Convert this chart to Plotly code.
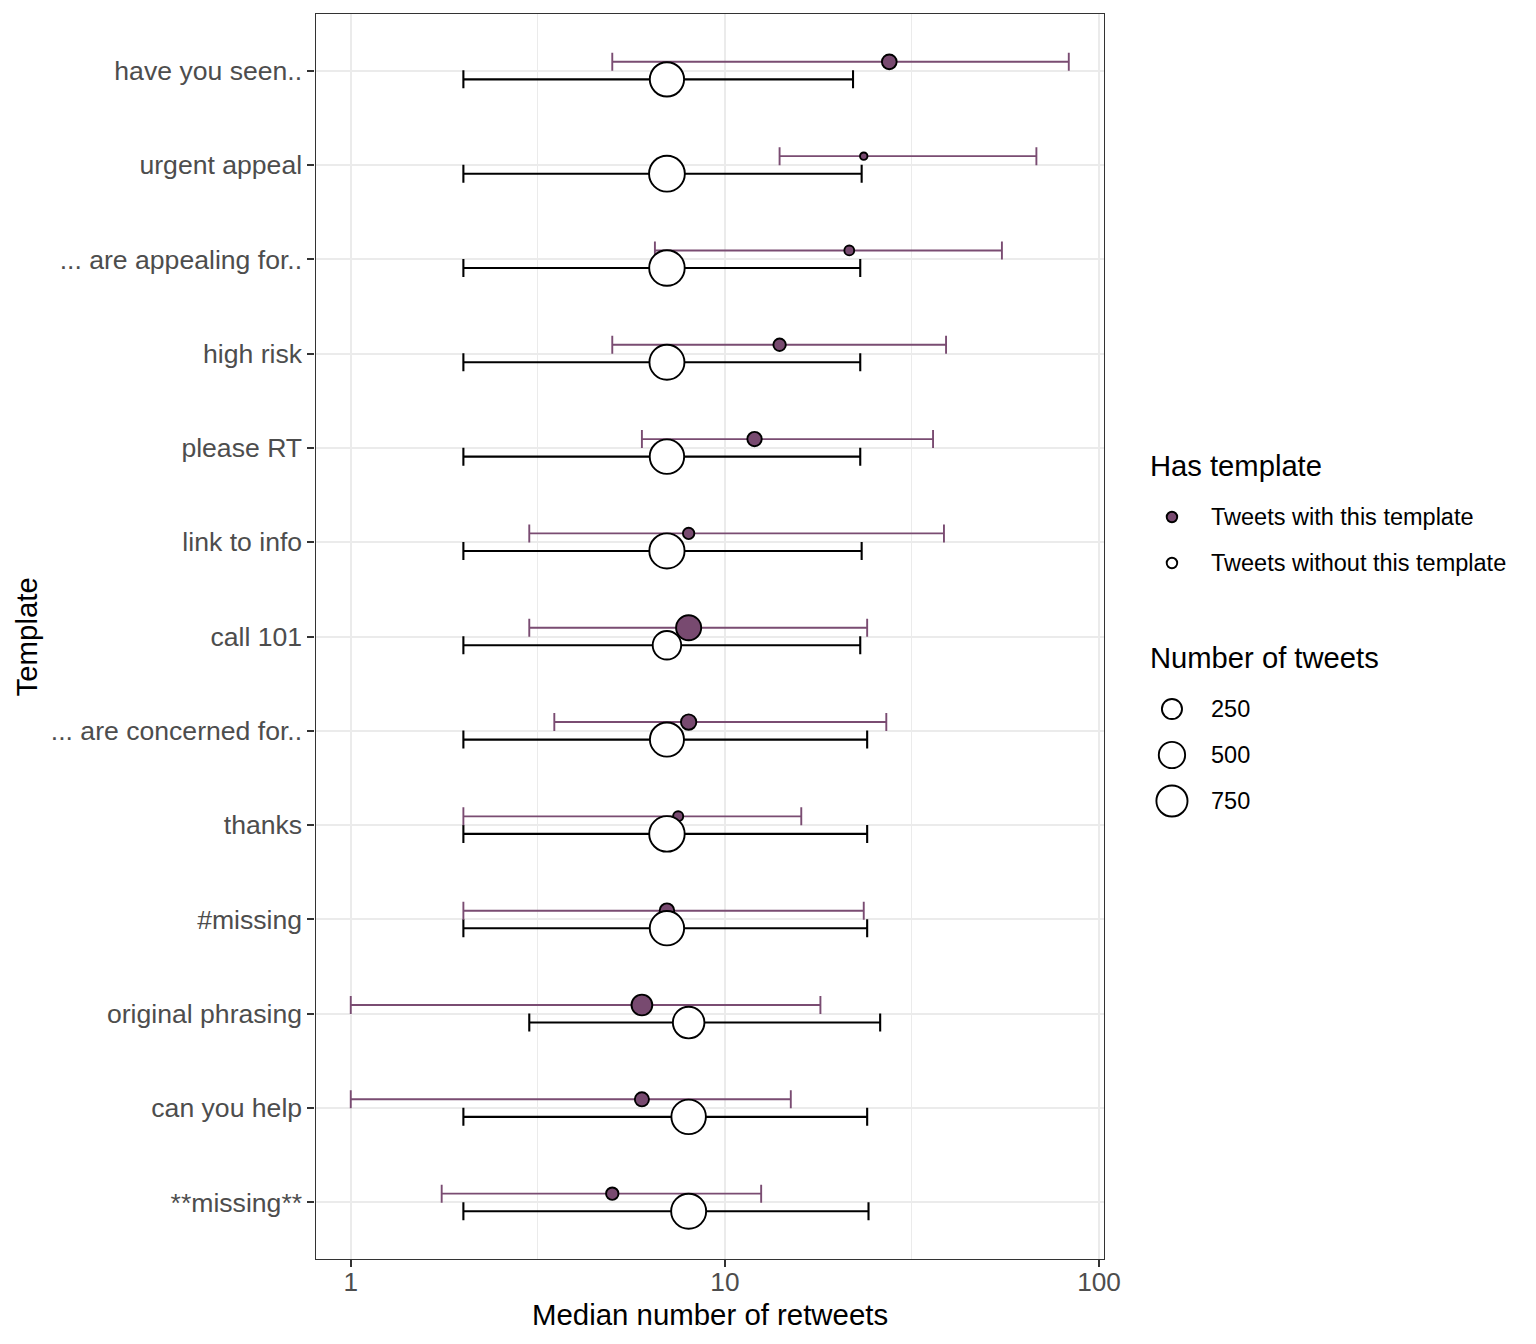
import numpy as np
import plotly.graph_objects as go

# ---------------- data ----------------
CATEGORIES = ["have you seen..", "urgent appeal", "... are appealing for..", "high risk",
              "please RT", "link to info", "call 101", "... are concerned for..", "thanks",
              "#missing", "original phrasing", "can you help", "**missing**"]

WITH_MEDIAN = [27.5, 23.5, 21.5, 14.0, 12.0, 8.0, 8.0, 8.0, 7.5, 7.0, 6.0, 6.0, 5.0]
WITH_LOW = [5.0, 14.0, 6.5, 5.0, 6.0, 3.0, 3.0, 3.5, 2.0, 2.0, 1.0, 1.0, 1.75]
WITH_HIGH = [83.0, 68.0, 55.0, 39.0, 36.0, 38.5, 24.0, 27.0, 16.0, 23.5, 18.0, 15.0, 12.5]
WITH_COUNT = [104, 6, 25, 59, 96, 44, 443, 118, 28, 100, 273, 90, 59]

WITHOUT_MEDIAN = [7, 7, 7, 7, 7, 7, 7, 7, 7, 7, 8, 8, 8]
WITHOUT_LOW = [2, 2, 2, 2, 2, 2, 2, 2, 2, 2, 3, 2, 2]
WITHOUT_HIGH = [22.0, 23.2, 23.0, 23.0, 23.0, 23.2, 23.0, 24.0, 24.0, 24.0, 26.0, 24.0, 24.2]
WITHOUT_COUNT = [946, 1044, 1025, 991, 954, 1006, 607, 932, 1022, 950, 777, 960, 991]

X_TICKS = [1, 10, 100]
X_TICK_LABELS = ["1", "10", "100"]
X_MINOR = [10 ** 0.5, 10 ** 1.5]
SIZE_BREAKS = [250, 500, 750]
GROUP_LABELS = ["Tweets with this template", "Tweets without this template"]
WITH_DRAWN_ON_TOP = ["link to info", "call 101", "... are concerned for.."]

# ---------------- styling ----------------
W, H = 1536, 1344          # figure size in page pixels
XREF_W = 1521              # horizontal reference width used for layout positions
FONT = "Liberation Sans, Arial, Helvetica, sans-serif"
PURPLE = "#784A70"
PURPLE_BAR = "#7A4C72"
GRID = "#EBEBEB"
BORDER = "#333333"
TICK_TXT = "#4D4D4D"
MLW = 1.9  # marker outline width
DODGE = 0.093

PLOT_L, PLOT_R, PLOT_T, PLOT_B = 316, 1105, 14, 1259


def marker_px(n):
    """Point-size scale: outer diameter grows with sqrt(count)."""
    return 7 + 0.95 * np.sqrt(np.asarray(n, dtype=float)) - MLW


n = len(CATEGORIES)
ypos = np.arange(n)[::-1].astype(float)
y_with = ypos + DODGE
y_without = ypos - DODGE

wm, wl, wh = map(np.array, (WITH_MEDIAN, WITH_LOW, WITH_HIGH))
om, ol, oh = map(np.array, (WITHOUT_MEDIAN, WITHOUT_LOW, WITHOUT_HIGH))

fig = go.Figure()

# error bars (drawn first, below all points)
fig.add_trace(go.Scatter(
    x=om, y=y_without, mode="markers", marker=dict(opacity=0, size=2),
    error_x=dict(type="data", symmetric=False, array=oh - om, arrayminus=om - ol,
                 color="black", thickness=2.1, width=9),
    showlegend=False, hoverinfo="skip"))
fig.add_trace(go.Scatter(
    x=wm, y=y_with, mode="markers", marker=dict(opacity=0, size=2),
    error_x=dict(type="data", symmetric=False, array=wh - wm, arrayminus=wm - wl,
                 color=PURPLE_BAR, thickness=1.9, width=9),
    showlegend=False, hoverinfo="skip"))

on_top = np.array([c in WITH_DRAWN_ON_TOP for c in CATEGORIES])
wsize = marker_px(WITH_COUNT)
osize = marker_px(WITHOUT_COUNT)

# points: "with" (underneath), "without", "with" (on top)
fig.add_trace(go.Scatter(
    x=wm[~on_top], y=y_with[~on_top], mode="markers",
    marker=dict(size=wsize[~on_top], color=PURPLE, opacity=1,
                line=dict(color="black", width=MLW)),
    showlegend=False, name=GROUP_LABELS[0]))
fig.add_trace(go.Scatter(
    x=om, y=y_without, mode="markers",
    marker=dict(size=osize, color="white", opacity=1, line=dict(color="black", width=MLW)),
    showlegend=False, name=GROUP_LABELS[1]))
fig.add_trace(go.Scatter(
    x=wm[on_top], y=y_with[on_top], mode="markers",
    marker=dict(size=wsize[on_top], color=PURPLE, opacity=1,
                line=dict(color="black", width=MLW)),
    showlegend=False, name=GROUP_LABELS[0]))

# ---------------- custom legend (pixel-coordinate overlay axes) ----------------
LEG_TITLE_X = 1150
LEG_KEY_X = 1173.5
LEG_TEXT_X = 1211
TITLE1_Y = 466
ROW1_Y0, ROW_GAP = 517, 46
TITLE2_Y = 658
ROW2_Y0 = 709

key_ys = [ROW1_Y0 + i * ROW_GAP for i in range(len(GROUP_LABELS))]
fig.add_trace(go.Scatter(
    x=[LEG_KEY_X] * 2, y=key_ys, xaxis="x2", yaxis="y2", mode="markers",
    marker=dict(size=10.5, color=[PURPLE, "white"], opacity=1,
                line=dict(color="black", width=MLW)),
    showlegend=False, hoverinfo="skip"))
size_ys = [ROW2_Y0 + i * ROW_GAP for i in range(len(SIZE_BREAKS))]
fig.add_trace(go.Scatter(
    x=[LEG_KEY_X] * len(SIZE_BREAKS), y=size_ys, xaxis="x2", yaxis="y2", mode="markers",
    marker=dict(size=marker_px(SIZE_BREAKS), color="white", opacity=1,
                line=dict(color="black", width=MLW)),
    showlegend=False, hoverinfo="skip"))

annotations = []
annotations.append(dict(x=LEG_TITLE_X, y=TITLE1_Y, xref="x2", yref="y2", text="Has template",
                        showarrow=False, xanchor="left", yanchor="middle",
                        font=dict(family=FONT, size=29.2, color="black")))
annotations.append(dict(x=LEG_TITLE_X, y=TITLE2_Y, xref="x2", yref="y2", text="Number of tweets",
                        showarrow=False, xanchor="left", yanchor="middle",
                        font=dict(family=FONT, size=29.2, color="black")))
for lab, yy in zip(GROUP_LABELS, key_ys):
    annotations.append(dict(x=LEG_TEXT_X, y=yy, xref="x2", yref="y2", text=lab,
                            showarrow=False, xanchor="left", yanchor="middle",
                            font=dict(family=FONT, size=23.5, color="black")))
for b, yy in zip(SIZE_BREAKS, size_ys):
    annotations.append(dict(x=LEG_TEXT_X, y=yy, xref="x2", yref="y2", text=str(b),
                            showarrow=False, xanchor="left", yanchor="middle",
                            font=dict(family=FONT, size=23.5, color="black")))
# axis titles
annotations.append(dict(x=(PLOT_L + PLOT_R) / 2, y=1314, xref="x2", yref="y2",
                        text="Median number of retweets", showarrow=False,
                        xanchor="center", yanchor="middle",
                        font=dict(family=FONT, size=29.4, color="black")))
annotations.append(dict(x=27, y=(PLOT_T + PLOT_B) / 2, xref="x2", yref="y2",
                        text="Template", showarrow=False, textangle=-90,
                        xanchor="center", yanchor="middle",
                        font=dict(family=FONT, size=29.4, color="black")))

fig.update_layout(
    width=W, height=H, autosize=False,
    margin=dict(l=0, r=0, t=0, b=0, pad=0),
    paper_bgcolor="white", plot_bgcolor="rgba(0,0,0,0)",
    showlegend=False,
    font=dict(family=FONT),
    annotations=annotations,
    xaxis=dict(
        type="log", range=[-0.094, 2.012],
        domain=[PLOT_L / XREF_W, PLOT_R / XREF_W], anchor="y",
        tickvals=X_TICKS, ticktext=X_TICK_LABELS,
        ticks="outside", ticklen=7, tickwidth=1.5, tickcolor=BORDER,
        tickfont=dict(family=FONT, size=26.2, color=TICK_TXT),
        ticklabelstandoff=-8,
        showgrid=True, gridcolor=GRID, gridwidth=2,
        minor=dict(tickvals=X_MINOR, showgrid=True, gridcolor=GRID, gridwidth=1, ticks=""),
        showline=True, linecolor=BORDER, linewidth=1.3, mirror=True,
        zeroline=False, fixedrange=True,
    ),
    yaxis=dict(
        range=[-0.6, n - 1 + 0.6],
        domain=[1 - PLOT_B / H, 1 - PLOT_T / H], anchor="x",
        tickvals=list(ypos), ticktext=CATEGORIES,
        ticks="outside", ticklen=7, tickwidth=1.5, tickcolor=BORDER,
        tickfont=dict(family=FONT, size=26.6, color=TICK_TXT),
        showgrid=True, gridcolor=GRID, gridwidth=2,
        showline=True, linecolor=BORDER, linewidth=1.3, mirror=True,
        zeroline=False, fixedrange=True,
    ),
    xaxis2=dict(domain=[0, 1], range=[0, XREF_W], anchor="y2", visible=False, fixedrange=True),
    yaxis2=dict(domain=[0, 1], range=[H, 0], anchor="x2", visible=False, fixedrange=True),
)

fig.write_html(
    "out.html",
    config={"displayModeBar": False},
    post_script=("document.body.style.margin='0px';document.body.style.overflow='hidden';"
                 "document.documentElement.style.overflow='hidden';"),
)
